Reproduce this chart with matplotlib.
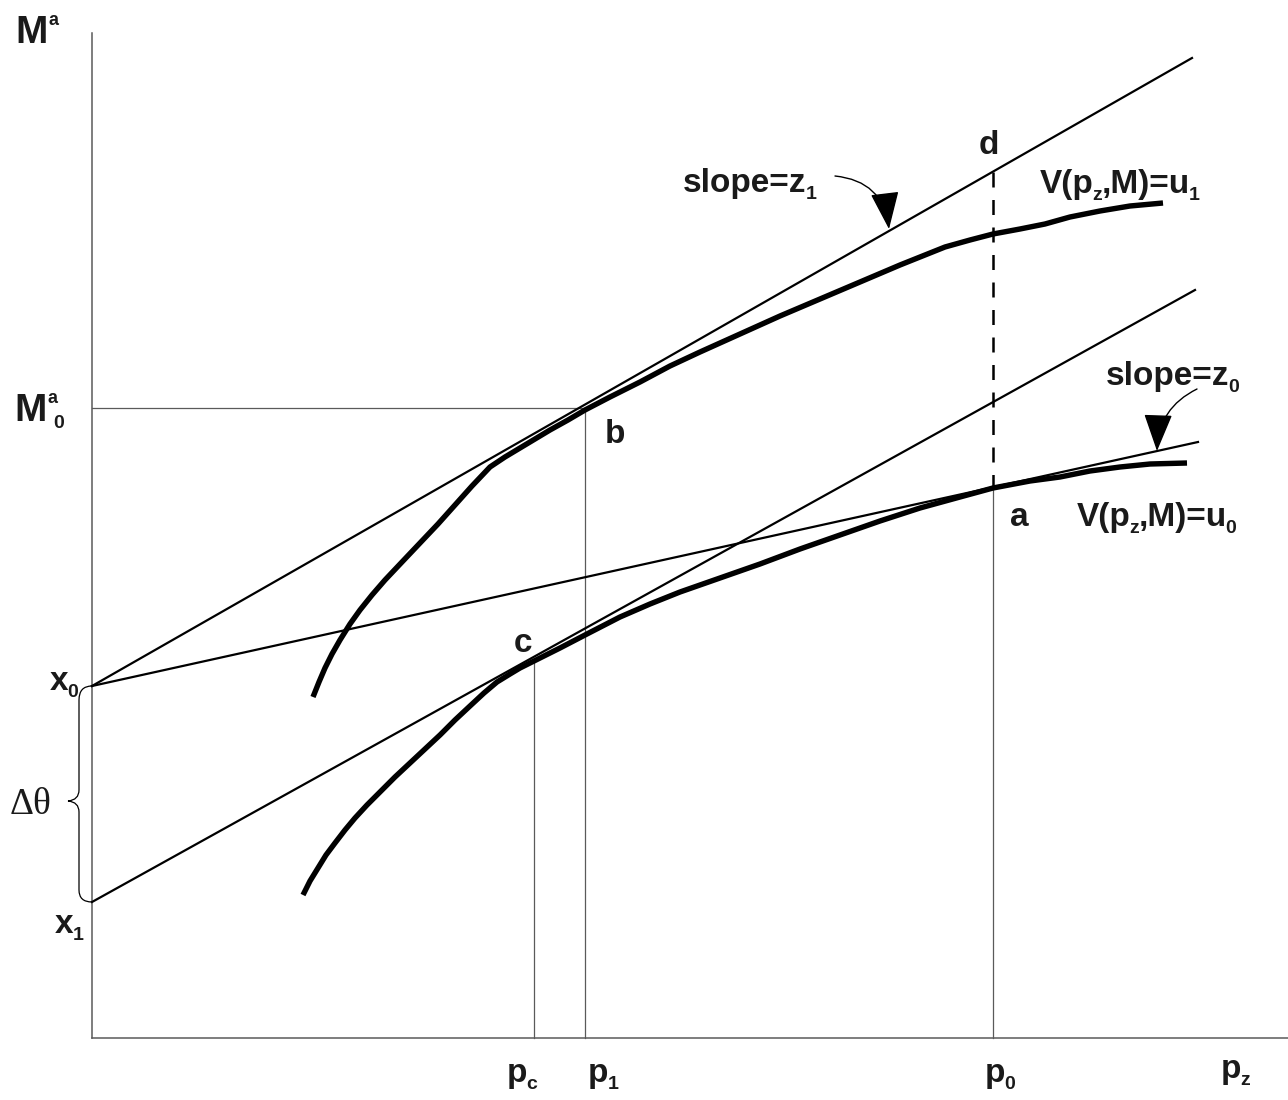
import matplotlib
matplotlib.use("Agg")
import matplotlib.pyplot as plt
from matplotlib.patches import FancyArrowPatch, PathPatch
from matplotlib.path import Path

plt.rcParams['font.family'] = ['Liberation Sans', 'DejaVu Sans']

# diagram points (pixel space, y down)
x_axis_y = 1038
y_axis_x = 92
x0 = (92, 686)
x1 = (92, 902)
line_z1_end = (1192, 58)
line_low_end = (1195, 290)
line_z0_end = (1198, 442)

p_c, p_1, p_0 = 534, 585, 993
M0 = 408
pt_a = (993, 488)
pt_c = (534, 661)
pt_d = (993, 172)

u1_x = [313, 319, 325, 332, 340, 350, 360, 372, 385, 402, 420, 438, 455, 472,
        490, 505, 520, 535, 550, 568, 585, 610, 640, 670, 700, 740, 780, 820,
        860, 900, 945, 970, 993, 1020, 1045, 1070, 1100, 1130, 1163]
u1_y = [697, 682, 668, 654, 640, 624, 610, 595, 580, 562, 543, 524, 505, 486,
        467, 457, 448, 439, 430, 420, 410, 397, 382, 366, 352, 334, 316, 299,
        282, 265, 247, 240, 234, 229, 224, 217, 211, 206, 203]

u0_x = [303, 310, 318, 326, 335, 345, 355, 367, 380, 395, 410, 425, 440, 455,
        470, 484, 497, 510, 520, 534, 560, 585, 620, 650, 680, 720, 760, 800,
        840, 880, 920, 960, 993, 1030, 1060, 1090, 1120, 1150, 1187]
u0_y = [895, 881, 868, 855, 843, 830, 818, 805, 792, 777, 763, 749, 735, 720,
        706, 693, 682, 674, 668, 661, 648, 635, 617, 604, 592, 578, 564, 549,
        535, 521, 508, 497, 488, 481, 477, 471, 467, 464, 463]

fig = plt.figure(figsize=(12.88, 11), dpi=100)
ax = fig.add_axes([0, 0, 1, 1])
ax.set_xlim(0, 1288)
ax.set_ylim(1100, 0)
ax.axis('off')

gray = '#5a5a5a'
ink = '#1a1a1a'
# axes
ax.plot([y_axis_x, y_axis_x], [33, x_axis_y], color=gray, lw=1.1)
ax.plot([y_axis_x, 1288], [x_axis_y, x_axis_y], color=gray, lw=1.1)

# guides
ax.plot([y_axis_x, p_1], [M0, M0], color=gray, lw=0.9)
ax.plot([p_1, p_1], [M0, x_axis_y], color=gray, lw=0.9)
ax.plot([p_c, p_c], [pt_c[1], x_axis_y], color=gray, lw=0.9)
ax.plot([p_0, p_0], [pt_a[1], x_axis_y], color=gray, lw=0.9)
ax.plot([p_0, p_0], [pt_d[1], pt_a[1]], color='black', lw=1.8, dashes=(6, 5))

# straight lines
ax.plot([x0[0], line_z1_end[0]], [x0[1], line_z1_end[1]], color='black', lw=1.6)
ax.plot([x1[0], line_low_end[0]], [x1[1], line_low_end[1]], color='black', lw=1.6)
ax.plot([x0[0], line_z0_end[0]], [x0[1], line_z0_end[1]], color='black', lw=1.6)

# indifference curves
ax.plot(u1_x, u1_y, color='black', lw=3.9, solid_capstyle='butt')
ax.plot(u0_x, u0_y, color='black', lw=3.9, solid_capstyle='butt')

# brace for delta theta
brace = Path([(92, 686), (79, 686), (79, 700), (79, 790), (79, 800), (68, 801),
              (79, 802), (79, 812), (79, 890), (79, 902), (92, 902)],
             [Path.MOVETO, Path.CURVE3, Path.CURVE3, Path.LINETO, Path.CURVE3,
              Path.CURVE3, Path.CURVE3, Path.CURVE3, Path.LINETO, Path.CURVE3,
              Path.CURVE3])
ax.add_patch(PathPatch(brace, fill=False, color='black', lw=0.9))

# arrows
arr_kw = dict(arrowstyle='-|>,head_length=1.7,head_width=0.65', mutation_scale=14,
              color='black', lw=1.0, shrinkA=0, shrinkB=0)
ax.add_patch(FancyArrowPatch((835, 176), (889, 229),
                             connectionstyle='arc3,rad=-0.4', **arr_kw))
ax.add_patch(FancyArrowPatch((1197, 389), (1157, 451),
                             connectionstyle='arc3,rad=0.3', **arr_kw))

renderer = fig.canvas.get_renderer()

def lab(x, y, pieces, size=24, sub=14, sub_drop=7, sup_rise=18):
    # pieces: list of (text, 'n' | 'sub' | 'sup'); x, y = left, baseline in px
    for s, kind in pieces:
        if kind == 'n':
            t = ax.text(x, y, s, fontsize=size, fontweight='bold', color=ink,
                        ha='left', va='baseline')
        elif kind == 'sub':
            t = ax.text(x - 1, y + sub_drop, s, fontsize=sub, fontweight='bold',
                        color=ink, ha='left', va='baseline')
        else:
            t = ax.text(x + 1, y - sup_rise, s, fontsize=sub - 1, fontweight='bold',
                        color=ink, ha='left', va='baseline')
        x += t.get_window_extent(renderer).width - (2 if kind != 'n' else 0)

lab(15, 43, [('M', 'n'), ('a', 'sup')], size=28)
lab(14, 421, [('M', 'n'), ('a', 'sup'), ('0', 'sub')], size=28)
lab(50, 690, [('x', 'n'), ('0', 'sub')])
lab(55, 933, [('x', 'n'), ('1', 'sub')])
ax.text(10, 814, '\u0394\u03b8', fontsize=27, family='Liberation Serif',
        ha='left', va='baseline', color=ink)

lab(605, 443, [('b', 'n')])
lab(514, 652, [('c', 'n')])
lab(1010, 526, [('a', 'n')])
lab(979, 154, [('d', 'n')])

lab(683, 192, [('slope=z', 'n'), ('1', 'sub')])
lab(1106, 385, [('slope=z', 'n'), ('0', 'sub')])
lab(1040, 193, [('V(p', 'n'), ('z', 'sub'), (',M)=u', 'n'), ('1', 'sub')])
lab(1077, 526, [('V(p', 'n'), ('z', 'sub'), (',M)=u', 'n'), ('0', 'sub')])

lab(507, 1082, [('p', 'n'), ('c', 'sub')])
lab(588, 1082, [('p', 'n'), ('1', 'sub')])
lab(985, 1082, [('p', 'n'), ('0', 'sub')])
lab(1221, 1078, [('p', 'n'), ('z', 'sub')])

fig.savefig('out.png', dpi=100)
